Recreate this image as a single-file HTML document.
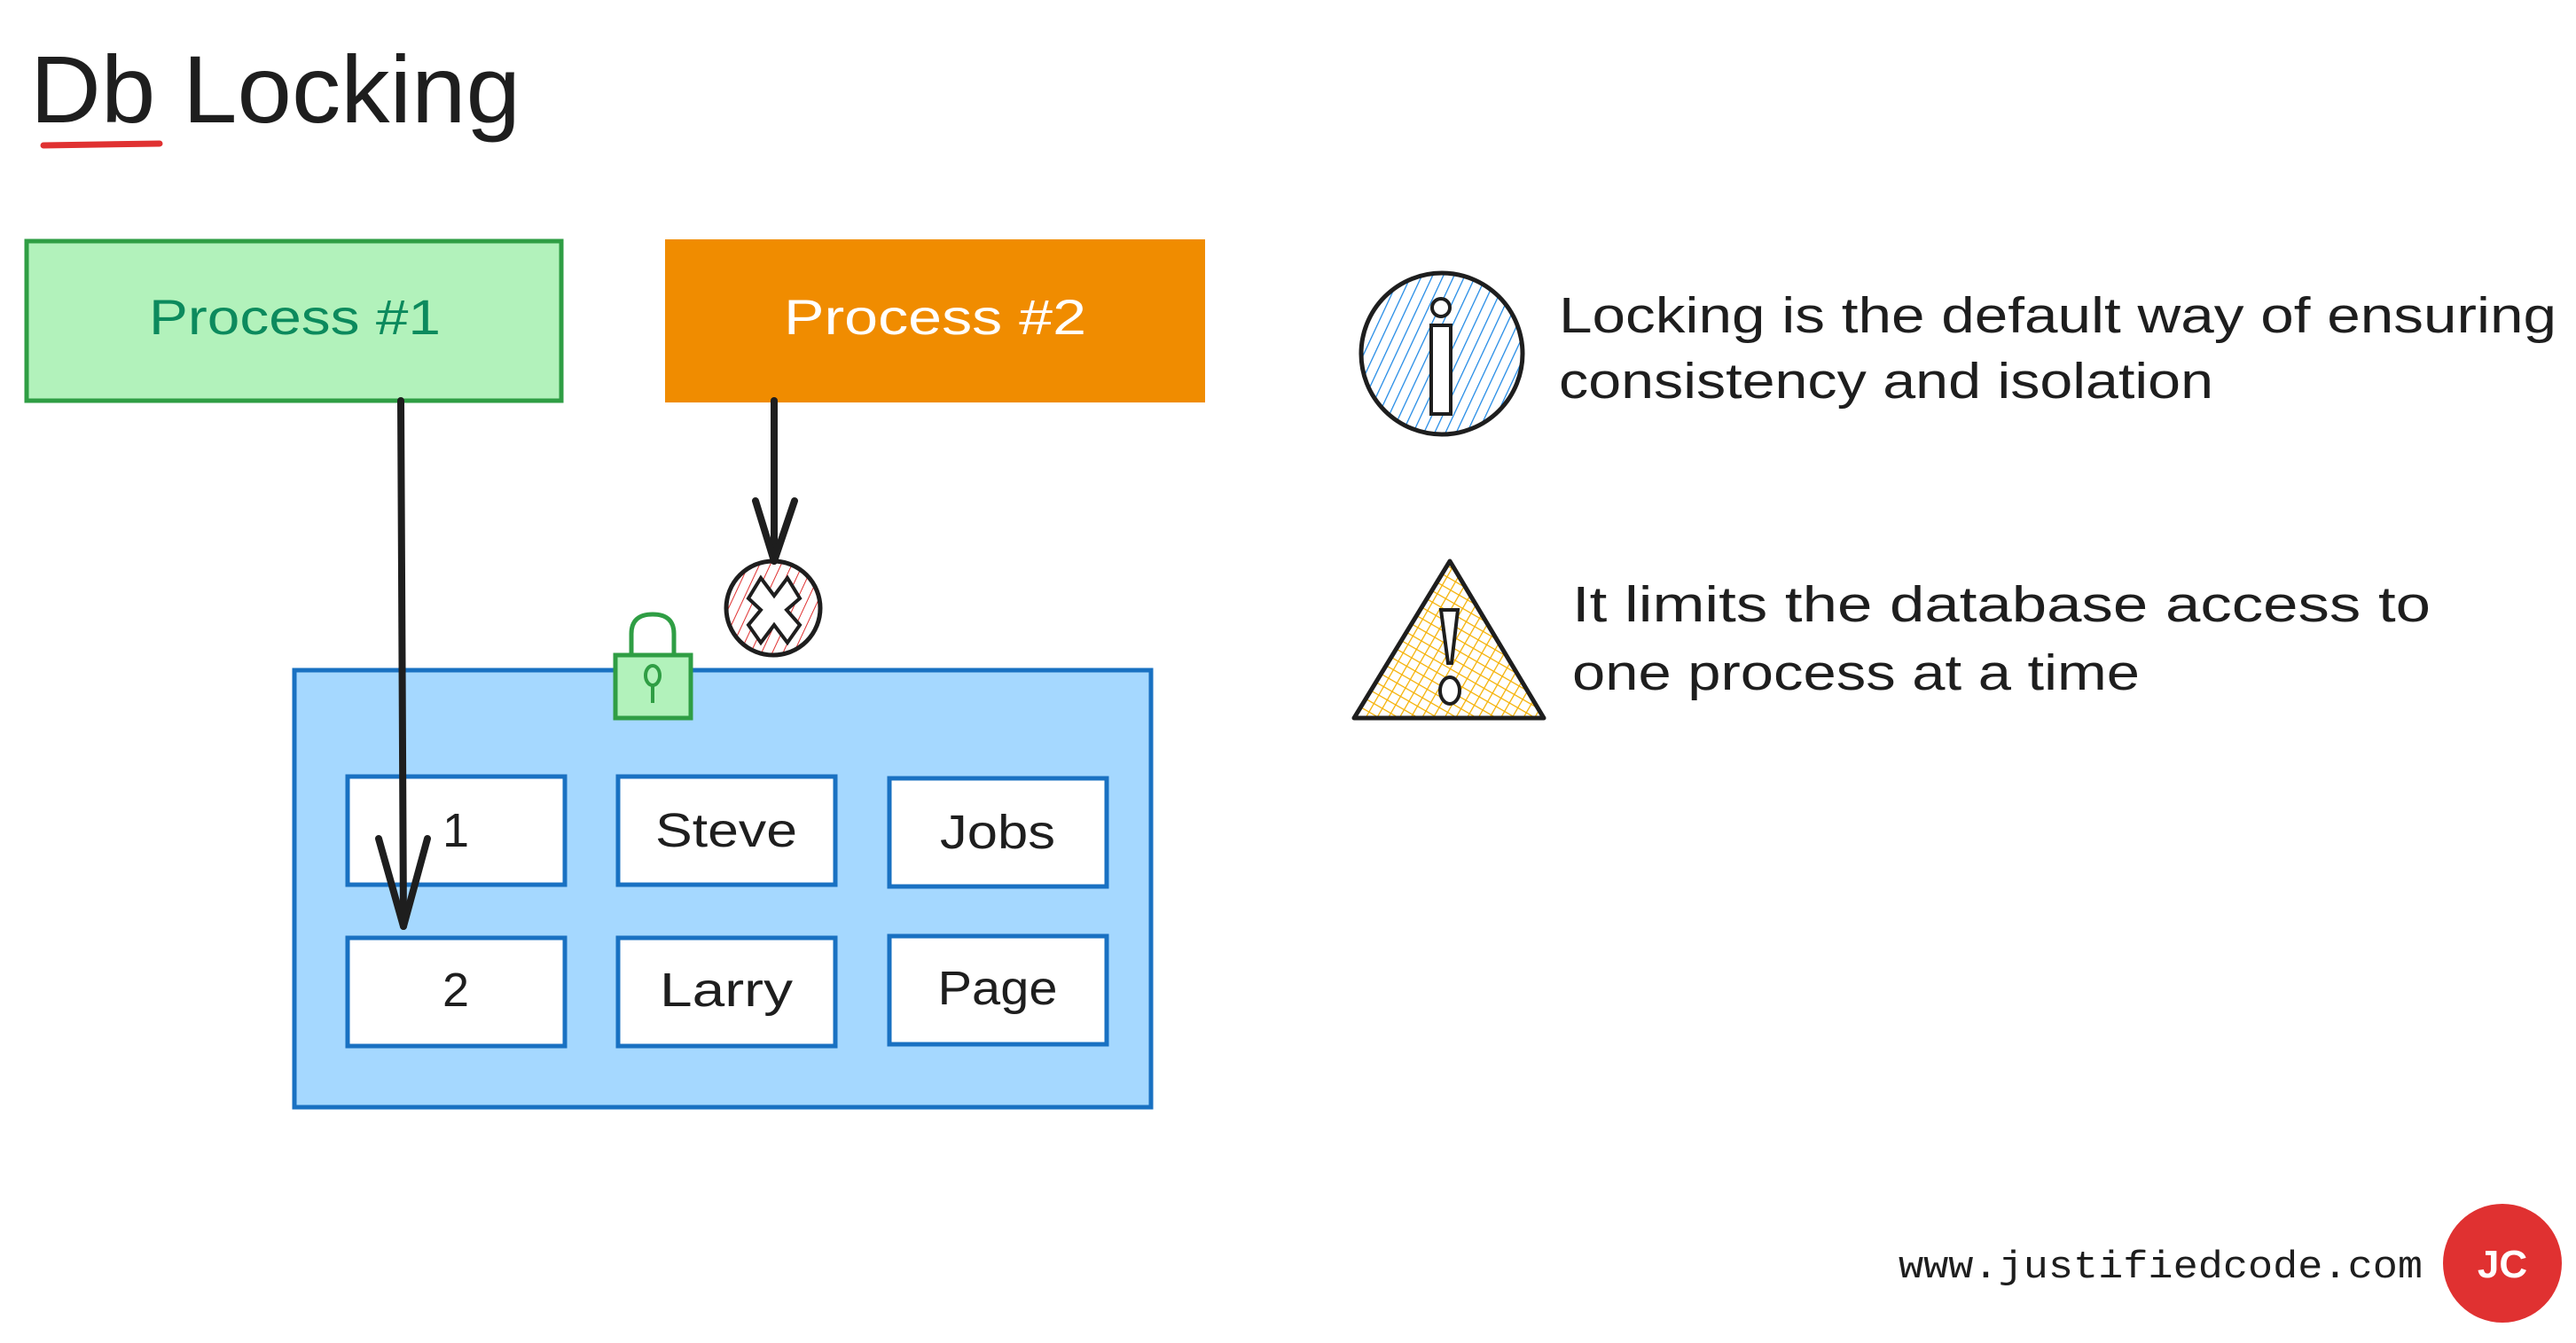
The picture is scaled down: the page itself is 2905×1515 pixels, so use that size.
<!DOCTYPE html>
<html><head><meta charset="utf-8"><style>
html,body{margin:0;padding:0;background:#fff;width:2905px;height:1515px;overflow:hidden}
svg{display:block}
</style></head><body>
<svg width="2905" height="1515" viewBox="0 0 2905 1515" xmlns="http://www.w3.org/2000/svg" font-family="Liberation Sans, sans-serif">
<defs>
<pattern id="hb" width="11" height="11" patternUnits="userSpaceOnUse" patternTransform="rotate(25)">
<line x1="0" y1="0" x2="0" y2="11" stroke="#1e88e5" stroke-width="2.5"/></pattern>
<pattern id="hr" width="11" height="11" patternUnits="userSpaceOnUse" patternTransform="rotate(25)">
<line x1="0" y1="0" x2="0" y2="11" stroke="#e03131" stroke-width="2"/></pattern>
<pattern id="hy" width="11" height="11" patternUnits="userSpaceOnUse" patternTransform="rotate(30)">
<line x1="0" y1="0" x2="0" y2="11" stroke="#f5b000" stroke-width="2.5"/><line x1="0" y1="0" x2="11" y2="0" stroke="#f5b000" stroke-width="2.5"/></pattern>
</defs>

<text x="34" y="138" font-size="108" fill="#1e1e1e" textLength="553" lengthAdjust="spacingAndGlyphs">Db Locking</text>
<line x1="49" y1="164" x2="180" y2="162" stroke="#e03131" stroke-width="7" stroke-linecap="round"/>

<rect x="30" y="272" width="603" height="180" fill="#b2f2bb" stroke="#2f9e44" stroke-width="5"/>
<text x="168" y="377" font-size="56" fill="#0c8a5d" textLength="329" lengthAdjust="spacingAndGlyphs">Process #1</text>
<rect x="750" y="270" width="609" height="184" fill="#f08c00"/>
<text x="884" y="377" font-size="56" fill="#fff" textLength="341" lengthAdjust="spacingAndGlyphs">Process #2</text>

<rect x="332" y="756" width="966" height="493" fill="#a5d8ff" stroke="#1971c2" stroke-width="5"/>
<g fill="#fff" stroke="#1971c2" stroke-width="5">
<rect x="392" y="876" width="245" height="122"/><rect x="697" y="876" width="245" height="122"/><rect x="1003" y="878" width="245" height="122"/>
<rect x="392" y="1058" width="245" height="122"/><rect x="697" y="1058" width="245" height="122"/><rect x="1003" y="1056" width="245" height="122"/>
</g>
<g font-size="54" fill="#1e1e1e" text-anchor="middle">
<text x="514" y="955">1</text><text x="819" y="955" textLength="160" lengthAdjust="spacingAndGlyphs">Steve</text><text x="1125" y="957" textLength="130" lengthAdjust="spacingAndGlyphs">Jobs</text>
<text x="514" y="1135">2</text><text x="819" y="1135" textLength="150" lengthAdjust="spacingAndGlyphs">Larry</text><text x="1125" y="1133" textLength="135" lengthAdjust="spacingAndGlyphs">Page</text>
</g>

<path d="M712 739 V715 Q712 693 736 693 Q760 693 760 715 V739" fill="none" stroke="#2f9e44" stroke-width="5"/>
<rect x="694" y="739" width="85" height="71" fill="#b2f2bb" stroke="#2f9e44" stroke-width="5"/>
<ellipse cx="736" cy="762" rx="8" ry="11" fill="none" stroke="#2f9e44" stroke-width="4"/>
<line x1="736" y1="773" x2="736" y2="793" stroke="#2f9e44" stroke-width="4"/>

<line x1="452" y1="452" x2="455" y2="1045" stroke="#1e1e1e" stroke-width="8" stroke-linecap="round"/>
<path d="M427 946 L455 1045 L482 946" fill="none" stroke="#1e1e1e" stroke-width="8" stroke-linecap="round" stroke-linejoin="round"/>
<line x1="873" y1="452" x2="873" y2="633" stroke="#1e1e1e" stroke-width="8" stroke-linecap="round"/>
<path d="M852 565 L873 633 L896 565" fill="none" stroke="#1e1e1e" stroke-width="8" stroke-linecap="round" stroke-linejoin="round"/>

<ellipse cx="872" cy="686" rx="53" ry="53" fill="url(#hr)" stroke="#1e1e1e" stroke-width="5"/>
<path d="M858 652 L873 672 L888 652 L902 675 L887 688 L902 705 L888 725 L873 705 L858 725 L844 705 L858 688 L844 675 Z" fill="#fff" stroke="#1e1e1e" stroke-width="4"/>

<ellipse cx="1626" cy="399" rx="91" ry="91" fill="url(#hb)" stroke="#1e1e1e" stroke-width="5"/>
<circle cx="1625" cy="347" r="10" fill="#fff" stroke="#1e1e1e" stroke-width="4"/>
<rect x="1614" y="367" width="22" height="100" fill="#fff" stroke="#1e1e1e" stroke-width="4"/>
<g font-size="57" fill="#1e1e1e">
<text x="1758" y="375" textLength="1125" lengthAdjust="spacingAndGlyphs">Locking is the default way of ensuring</text>
<text x="1758" y="449" textLength="738" lengthAdjust="spacingAndGlyphs">consistency and isolation</text>
<text x="1773" y="701" textLength="968" lengthAdjust="spacingAndGlyphs">It limits the database access to</text>
<text x="1773" y="778" textLength="640" lengthAdjust="spacingAndGlyphs">one process at a time</text>
</g>

<path d="M1635 633 L1741 810 L1527 810 Z" fill="url(#hy)" stroke="#1e1e1e" stroke-width="5" stroke-linejoin="round"/>
<path d="M1625 688 L1644 688 L1637 748 L1633 748 Z" fill="#fff" stroke="#1e1e1e" stroke-width="4"/>
<ellipse cx="1635" cy="779" rx="11" ry="15" fill="#fff" stroke="#1e1e1e" stroke-width="4"/>

<text x="2141" y="1441" font-family="Liberation Mono, monospace" font-size="44" fill="#1e1e1e" textLength="591" lengthAdjust="spacingAndGlyphs">www.justifiedcode.com</text>
<circle cx="2822" cy="1425" r="67" fill="#e03131"/>
<text x="2822" y="1441" font-size="44" font-weight="bold" fill="#fff" text-anchor="middle">JC</text>
</svg>
</body></html>
